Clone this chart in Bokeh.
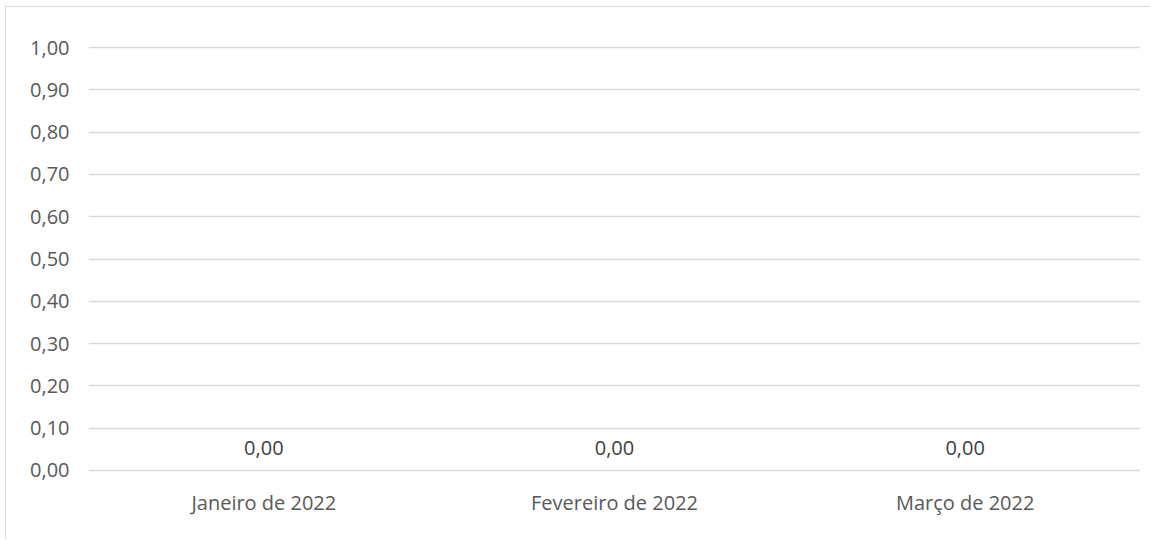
from bokeh.plotting import figure
from bokeh.models import ColumnDataSource, LabelSet, CustomJSTickFormatter, FixedTicker, Range1d
from bokeh.core.properties import value
from bokeh.embed import file_html
from bokeh.resources import INLINE

categories = ["Janeiro de 2022", "Fevereiro de 2022", "Março de 2022"]
values = [0.0, 0.0, 0.0]
y_ticks = [0.0, 0.1, 0.2, 0.3, 0.4, 0.5, 0.6, 0.7, 0.8, 0.9, 1.0]

labels = [f"{v:.2f}".replace(".", ",") for v in values]
source = ColumnDataSource(data=dict(cat=categories, val=values, lab=labels))

FONT = "Open Sans"
TXT = "#595959"
GRID = "#d9d9d9"

p = figure(x_range=categories, y_range=Range1d(-0.005, 1.005), width=1145, height=533,
           output_backend="svg", toolbar_location=None,
           min_border_left=82, min_border_right=11, min_border_top=38, min_border_bottom=68)
p.styles = {"border-top": "1px solid #d9d9d9", "border-left": "1px solid #d9d9d9",
            "margin-left": "5px", "margin-top": "6px"}

p.vbar(x="cat", top="val", width=0.6, source=source, fill_color="#4472C4", line_color=None)

p.add_layout(LabelSet(x="cat", y="val", text="lab", source=source, y_offset=15,
                      text_align="center", text_baseline="alphabetic",
                      text_font=value(FONT), text_font_size="20px", text_color="#404040"))

p.outline_line_color = None
p.xgrid.grid_line_color = None
p.ygrid.grid_line_color = GRID
p.ygrid.grid_line_width = 1.5

p.yaxis.ticker = FixedTicker(ticks=y_ticks)
p.yaxis.formatter = CustomJSTickFormatter(code="return tick.toFixed(2).replace('.', ',');")
for ax in (p.xaxis[0], p.yaxis[0]):
    ax.axis_line_color = None
    ax.major_tick_line_color = None
    ax.minor_tick_line_color = None
    ax.major_label_text_font = FONT
    ax.major_label_text_font_size = "20px"
    ax.major_label_text_color = TXT
p.yaxis.major_label_standoff = 13
p.xaxis.major_label_standoff = 10

open("out.html", "w").write(file_html(p, INLINE))
